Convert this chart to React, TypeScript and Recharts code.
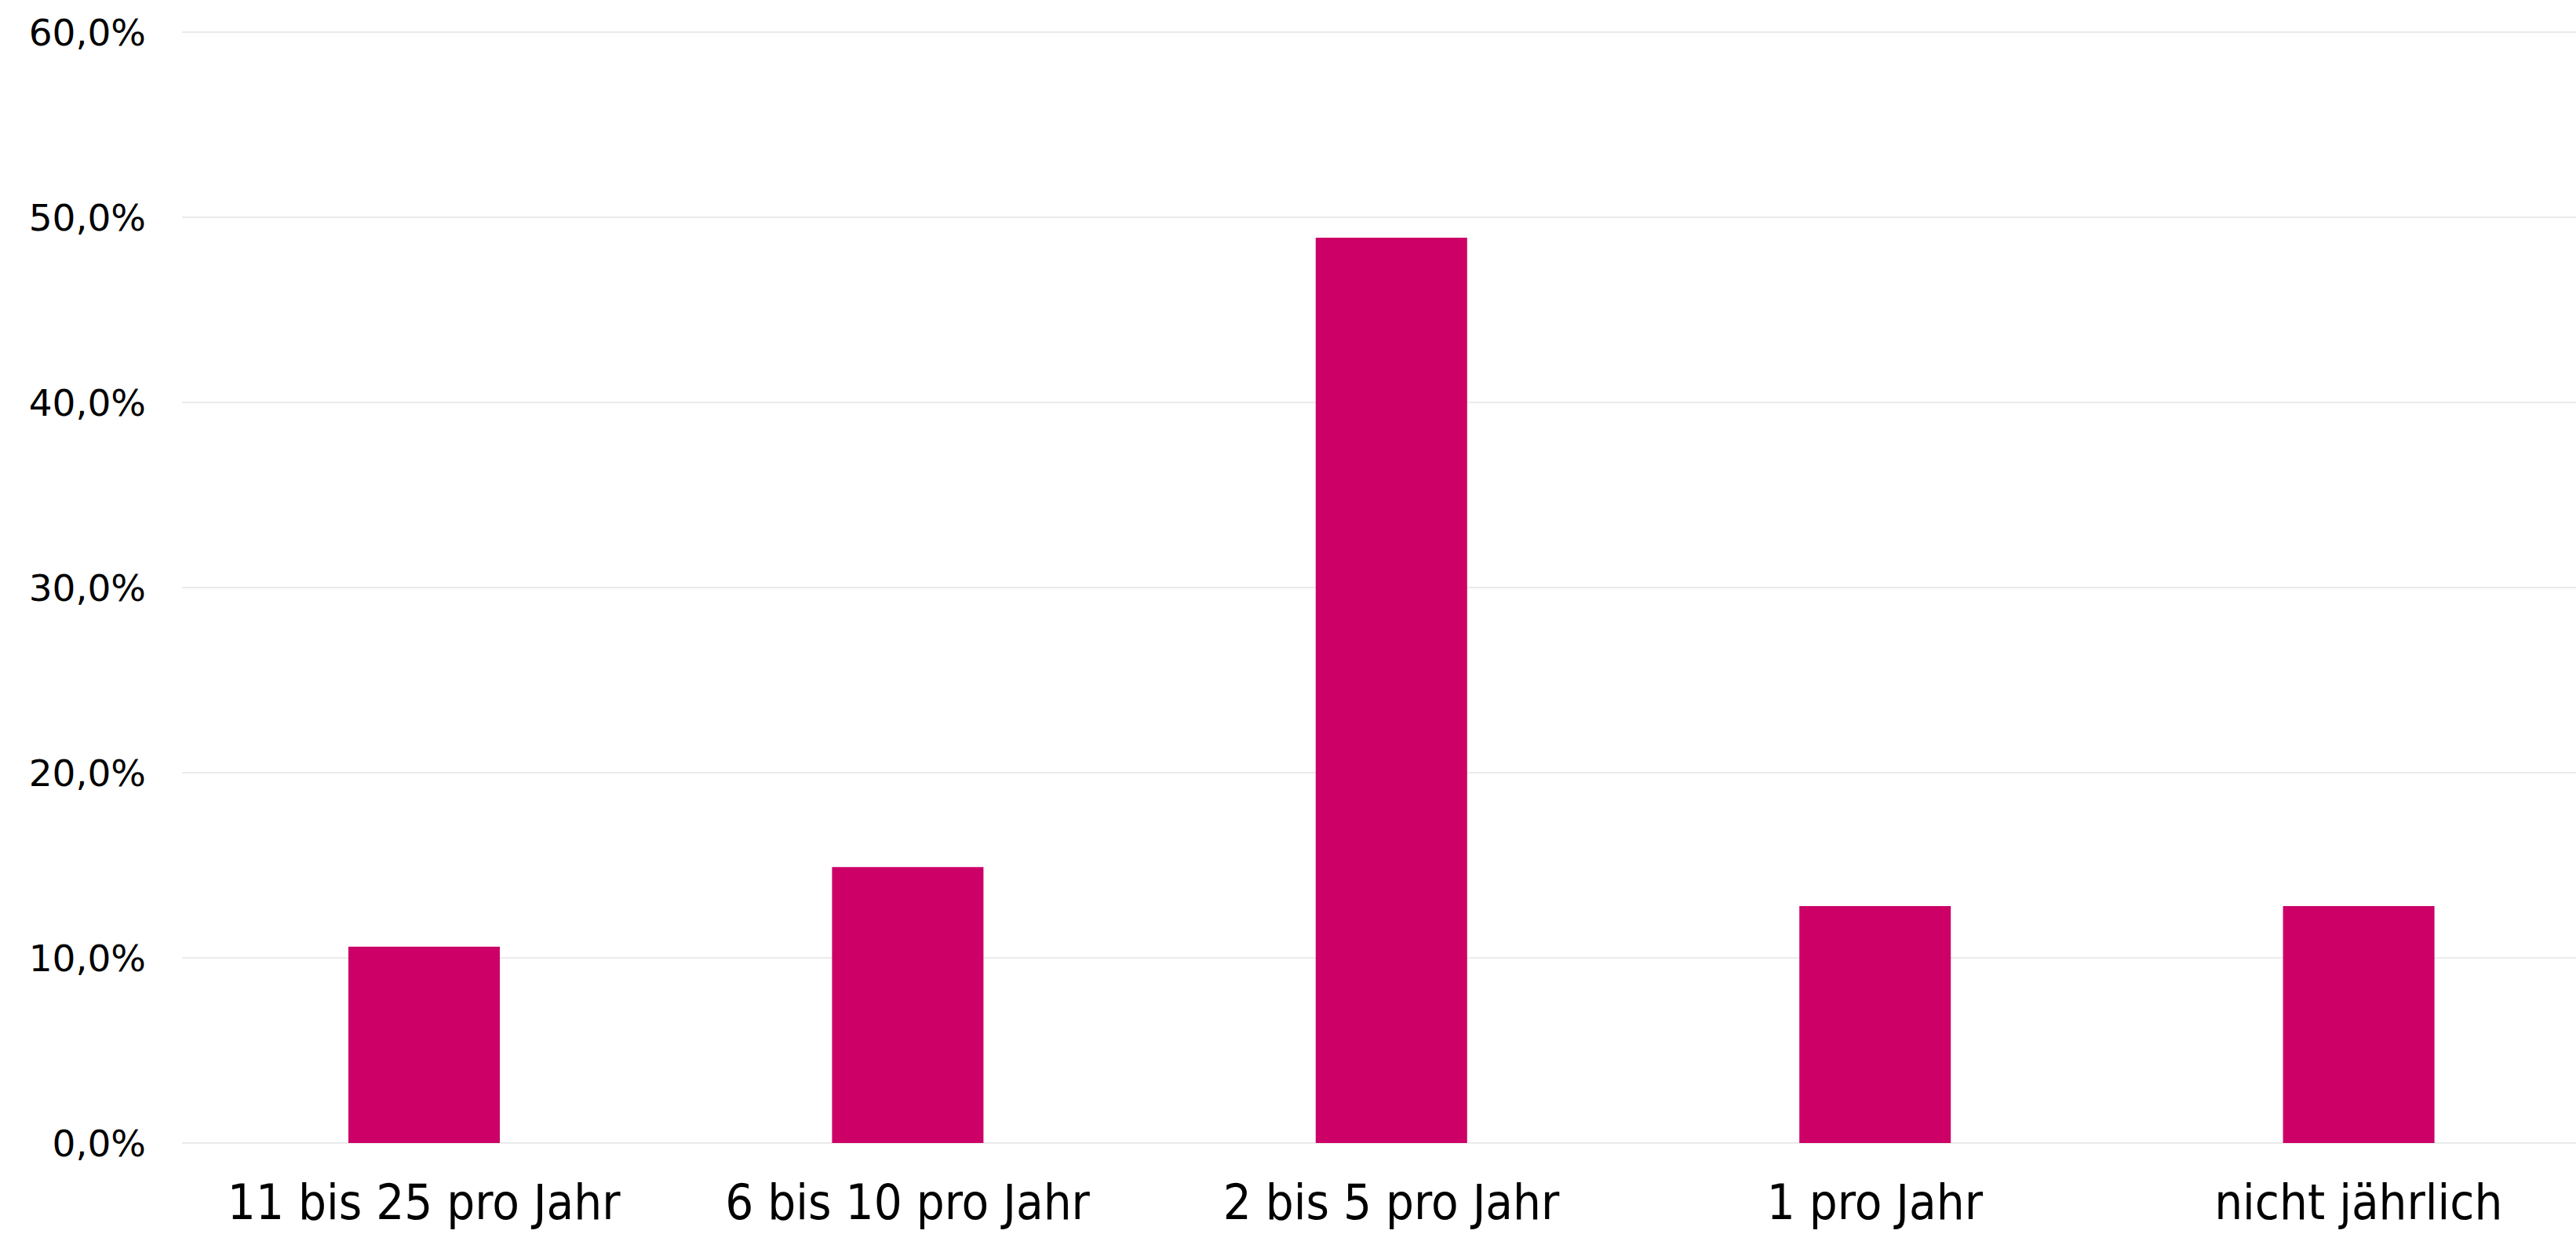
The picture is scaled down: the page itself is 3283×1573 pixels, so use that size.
import { BarChart, Bar, XAxis, YAxis, CartesianGrid } from "recharts"

const categories = [
  "11 bis 25 pro Jahr",
  "6 bis 10 pro Jahr",
  "2 bis 5 pro Jahr",
  "1 pro Jahr",
  "nicht jährlich",
]

const shares = [10.6, 14.9, 48.9, 12.8, 12.8]

const yTicks = [0, 10, 20, 30, 40, 50, 60]

const data = categories.map((name, i) => ({ name, share: shares[i] }))

const formatPct = (v: number) => v.toFixed(1).replace(".", ",") + "%"

const App = () => {
  return (
    <div
      style={{
        position: "absolute",
        left: 0,
        top: 0,
        width: 3283,
        height: 1573,
        overflow: "hidden",
        background: "#fff",
      }}
    >
      <BarChart
        width={3320}
        height={1573}
        data={data}
        margin={{ top: 41, right: 6, left: 0, bottom: 0 }}
        barSize={193}
      >
        <CartesianGrid vertical={false} stroke="#ebebeb" strokeWidth={2} />
        <XAxis
          dataKey="name"
          height={116}
          axisLine={false}
          tickLine={false}
          tickSize={0}
          tickMargin={52}
          interval={0}
          tick={{
            fill: "#000",
            fontSize: 63,
            fontFamily: "'Liberation Sans Narrow', 'DejaVu Sans Condensed', Roboto, sans-serif",
          }}
        />
        <YAxis
          width={232}
          domain={[0, 60]}
          ticks={yTicks}
          tickFormatter={formatPct}
          axisLine={false}
          tickLine={false}
          tickSize={0}
          tickMargin={46}
          tick={{
            fill: "#000",
            fontSize: 47,
            fontFamily: "'DejaVu Sans', sans-serif",
          }}
        />
        <Bar dataKey="share" fill="#cc0066" isAnimationActive={false} />
      </BarChart>
    </div>
  )
}

export default App
